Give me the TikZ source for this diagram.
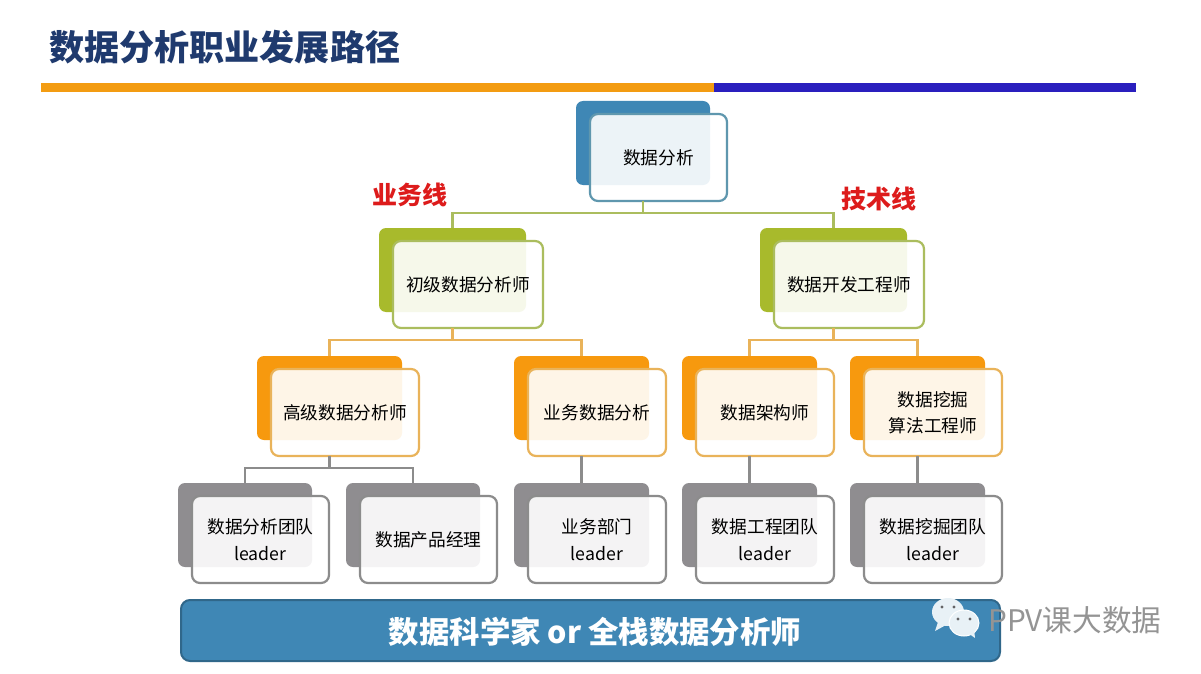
\documentclass[tikz,border=0pt]{standalone}
\usepackage{fontspec}
\setmainfont{Noto Sans CJK SC}
\usetikzlibrary{calc}
\definecolor{cblue}{HTML}{3F87B5}
\definecolor{cblueB}{HTML}{5F97AE}
\definecolor{cgreen}{HTML}{A8BA2C}
\definecolor{cgreenB}{HTML}{ABBD5E}
\definecolor{corange}{HTML}{F7990E}
\definecolor{corangeB}{HTML}{E9B35A}
\definecolor{cgrey}{HTML}{8F8D90}
\definecolor{cgreyB}{HTML}{8C8C8C}
\definecolor{ctitle}{HTML}{1F3A6E}
\definecolor{cbar}{HTML}{2A1FBE}
\definecolor{cbarO}{HTML}{F39C12}
\definecolor{cred}{HTML}{DD1B1B}
\tikzset{
  backbox/.style={rounded corners=7pt,inner sep=0pt,outer sep=0pt,fill=#1},
  frontbox/.style={rounded corners=8pt,inner sep=0pt,outer sep=0pt,draw=#1,line width=2.2pt,
    fill=white,fill opacity=.9,text opacity=1,align=center,font=\fontsize{17.7}{26.5}\selectfont},
  linkline/.style={draw=#1,line width=2.4pt},
}
% name, x0, y0, back width, fill, border, text
\newcommand{\cardbox}[7]{%
  \node[backbox=#5,minimum width=#4pt,minimum height=84pt] (#1B) at ({#2+#4/2},{#3+42}) {};
  \node[frontbox=#6,minimum width=#4pt+3pt,minimum height=87pt] (#1F) at ({#2+14+(#4+3)/2},{#3+13+43.5}) {#7};
}
\begin{document}
\begin{tikzpicture}[x=1pt,y=-1pt]
\useasboundingbox (0,0) rectangle (1201,674);
\fill[white] (0,0) rectangle (1201,674);
% header
\node[anchor=west,inner sep=0pt,text=ctitle,font=\fontsize{35.1}{35}\selectfont\bfseries] (title) at (49,47) {数据分析职业发展路径};
\fill[cbarO] (41,83) rectangle (714,92);
\fill[cbar] (714,83) rectangle (1136,92);
% cards
\cardbox{top}{576}{101}{134}{cblue}{cblueB}{数据分析}
\cardbox{gl}{379}{228}{147}{cgreen}{cgreenB}{初级数据分析师}
\cardbox{gr}{760}{228}{147}{cgreen}{cgreenB}{数据开发工程师}
\cardbox{oa}{257}{356}{145}{corange}{corangeB}{高级数据分析师}
\cardbox{ob}{514}{356}{135}{corange}{corangeB}{业务数据分析}
\cardbox{oc}{682}{356}{135}{corange}{corangeB}{数据架构师}
\cardbox{od}{850}{356}{135}{corange}{corangeB}{数据挖掘\\算法工程师}
\cardbox{ga}{178}{483}{134}{cgrey}{cgreyB}{数据分析团队\\leader}
\cardbox{gb}{346}{483}{134}{cgrey}{cgreyB}{数据产品经理}
\cardbox{gc}{514}{483}{135}{cgrey}{cgreyB}{业务部门\\leader}
\cardbox{gd}{682}{483}{135}{cgrey}{cgreyB}{数据工程团队\\leader}
\cardbox{ge}{850}{483}{135}{cgrey}{cgreyB}{数据挖掘团队\\leader}
% connectors
\draw[linkline=cgreenB] (topB.center |- topF.south) -- ++(0,12) coordinate (j1);
\draw[linkline=cgreenB] (j1) -| (glB.north);
\draw[linkline=cgreenB] (j1) -| (grB.north);
\draw[linkline=corangeB] (glB.center |- glF.south) -- ++(0,12) coordinate (j2);
\draw[linkline=corangeB] (j2) -| (oaB.north);
\draw[linkline=corangeB] (j2) -| (obB.north);
\draw[linkline=corangeB] (grB.center |- grF.south) -- ++(0,12) coordinate (j3);
\draw[linkline=corangeB] (j3) -| (ocB.north);
\draw[linkline=corangeB] (j3) -| (odB.north);
\draw[linkline=cgreyB] (oaB.center |- oaF.south) -- ++(0,12) coordinate (j4);
\draw[linkline=cgreyB] (j4) -| (gaB.north);
\draw[linkline=cgreyB] (j4) -| (gbB.north);
\draw[linkline=cgreyB] (obB.center |- obF.south) -- (gcB.north);
\draw[linkline=cgreyB] (ocB.center |- ocF.south) -- (gdB.north);
\draw[linkline=cgreyB] (odB.center |- odF.south) -- (geB.north);
% line labels
\node[inner sep=0pt,text=cred,font=\fontsize{25}{25}\selectfont\bfseries] (biz) at (409.5,195) {业务线};
\node[inner sep=0pt,text=cred,font=\fontsize{25}{25}\selectfont\bfseries] (tech) at (878.5,199) {技术线};
% bottom bar
\node[rounded corners=9pt,draw=black!10!cblue!85!black,line width=2pt,fill=cblue,minimum width=819pt,minimum height=61pt,inner sep=0pt] (bar) at (590.5,630.5) {};
\node[inner sep=0pt,text=white,font=\fontsize{30.4}{30}\selectfont\bfseries] (barText) at (595,632) {数据科学家 or 全栈数据分析师};
% watermark
\fill[white!88!cblue] (948,612) ellipse [x radius=16,y radius=14];
\fill[white!88!cblue] (938,622) -- (935,631) -- (946,625) -- cycle;
\fill[white!88!cblue,draw=white,line width=1pt] (964,623) ellipse [x radius=15,y radius=13];
\fill[white!88!cblue] (968,633) -- (975,638) -- (974,629) -- cycle;
\fill[cgrey!70!black] (942,607) circle (1.7) (954,607) circle (1.7) (958,619) circle (1.6) (970,619) circle (1.6);
\node[inner sep=0pt,anchor=west,text=black!42,font=\fontsize{29.7}{30}\selectfont] (mark) at (988,620) {PPV课大数据};
\end{tikzpicture}
\end{document}
